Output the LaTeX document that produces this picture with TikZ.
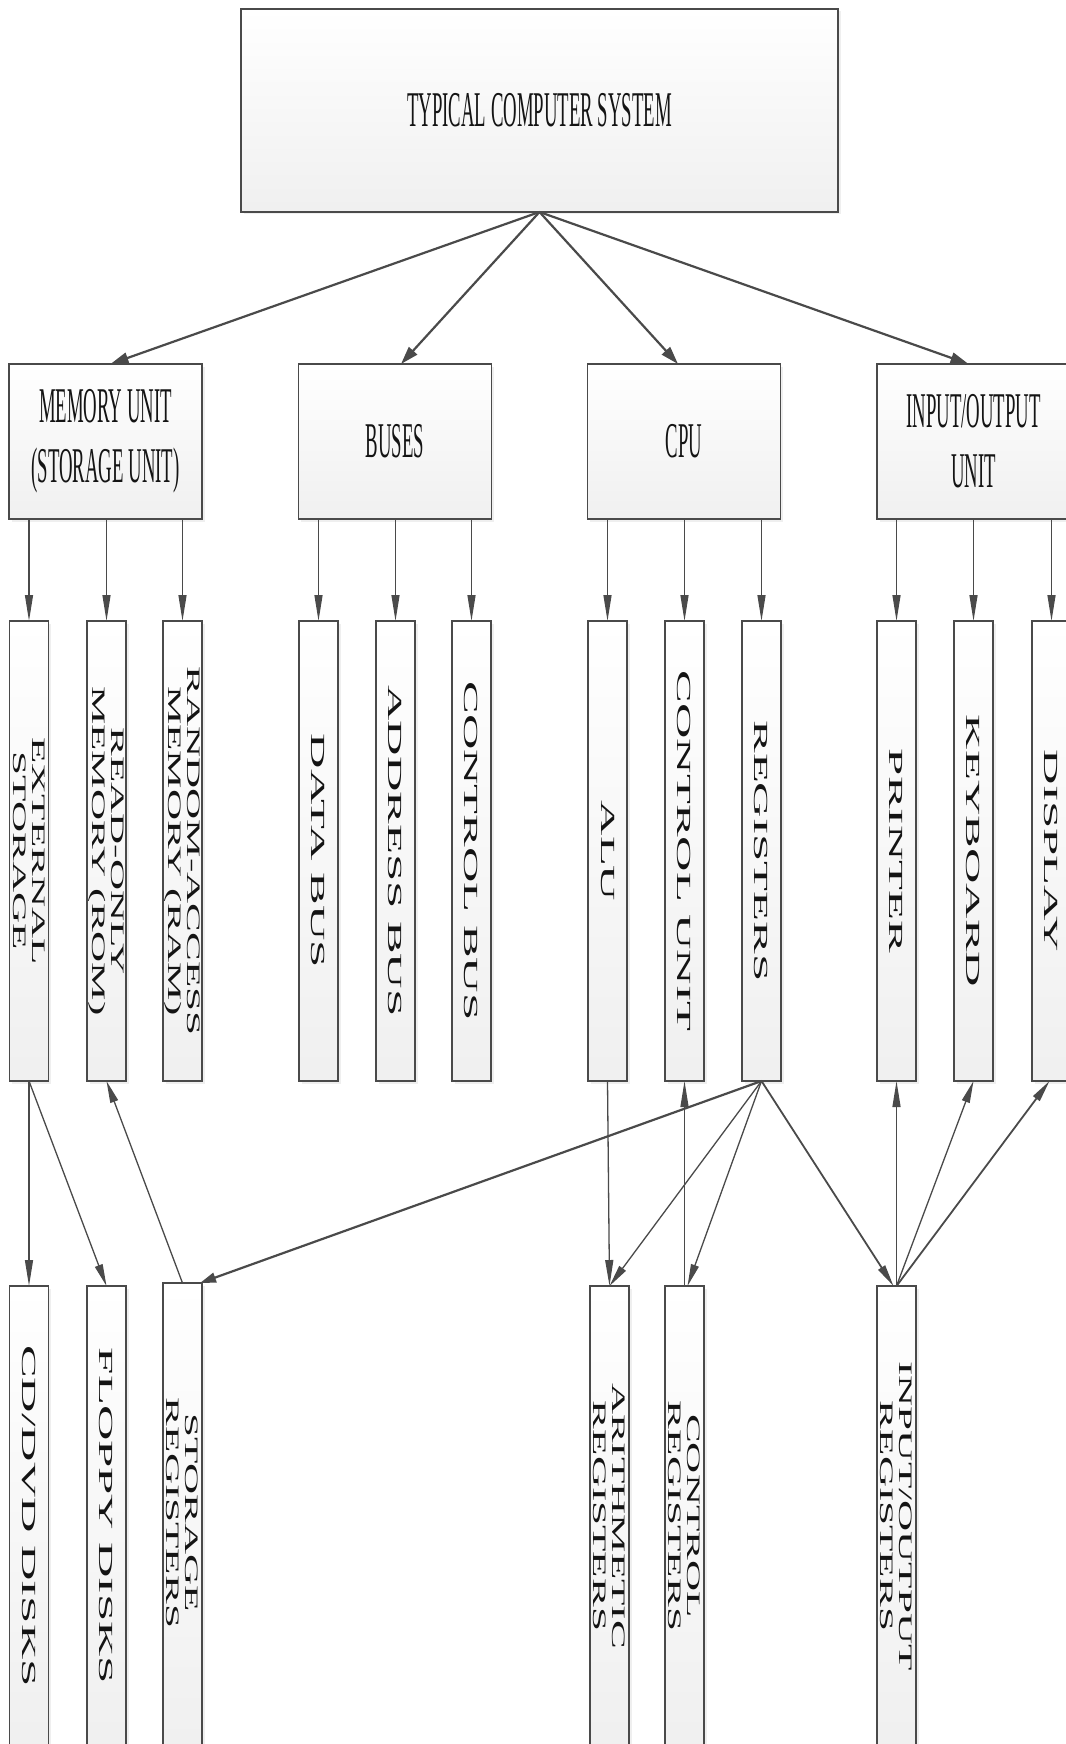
\documentclass[tikz,border=0pt]{standalone}
\usepackage{fontspec}
\setmainfont{Liberation Serif}
\newfontfamily\hfont[FakeStretch=0.375]{Liberation Serif}
\newfontfamily\vfontA[FakeStretch=2.45]{Liberation Serif}
\newfontfamily\vfontB[FakeStretch=2.27]{Liberation Serif}
\usetikzlibrary{arrows.meta,shadows,calc}
\definecolor{edge}{HTML}{4A4A4A}
\definecolor{txt}{HTML}{141414}
\begin{document}
\begin{tikzpicture}[x=1pt,y=-1pt,
 box/.style={draw=edge, line width=1.6pt, top color=white, bottom color=black!6,
   inner sep=0pt, outer sep=0pt,
   drop shadow={shadow xshift=2.5pt, shadow yshift=-2.5pt, opacity=0.12}},
 bigbox/.style={box, minimum width=597pt, minimum height=203pt},
 midbox/.style={box, minimum width=193pt, minimum height=155pt},
 tallbox/.style={box, line width=1.3pt, minimum width=39pt, minimum height=460pt},
 hlab/.style={font=\hfont\fontsize{50}{60}\selectfont, text=txt, align=center, inner sep=0pt},
 vlabA/.style={rotate=-90, font=\vfontA\fontsize{20}{20}\selectfont, text=txt, align=center, inner sep=0pt},
 vlabB/.style={rotate=-90, font=\vfontB\fontsize{19}{19}\selectfont, text=txt, align=center, inner sep=0pt},
 bigarr/.style={draw=edge, line width=2.2pt, -{Triangle[length=18pt,width=11pt]}},
 downarr/.style={draw=edge, line width=1.3pt, -{Triangle[length=26pt,width=8pt]}},
 slantarr/.style={draw=edge, line width=1.3pt, -{Triangle[length=22pt,width=8pt]}},
 longarr/.style={draw=edge, line width=2.2pt, -{Triangle[length=16pt,width=10pt]}},
]
\useasboundingbox[fill=white] (0,0) rectangle (1065,1744);

% level 1
\node[bigbox] (top) at (539.5,110.5) {};
\node[hlab] (topt) at (top) {TYPICAL COMPUTER SYSTEM};

% level 2
\node[midbox] (mem) at (105.5,441.5) {};
\node[hlab] (memt) at (mem) {MEMORY UNIT\\(STORAGE UNIT)};
\node[midbox] (bus) at (395,441.5) {};
\node[hlab] (bust) at (bus) {BUSES};
\node[midbox] (cpu) at (684,441.5) {};
\node[hlab] (cput) at (cpu) {CPU};
\node[midbox] (io) at (973.5,441.5) {};
\node[hlab] (iot) at (io) {INPUT/OUTPUT\\UNIT};

% level 3
\node[tallbox] (ext) at (29,851) {};
\node[vlabB] (extt) at (ext) {EXTERNAL\\STORAGE};
\node[tallbox] (rom) at (106.5,851) {};
\node[vlabB] (romt) at (rom) {READ-ONLY\\MEMORY (ROM)};
\node[tallbox] (ram) at (182.5,851) {};
\node[vlabB] (ramt) at (ram) {RANDOM-ACCESS\\MEMORY (RAM)};

\node[tallbox] (dbus) at (318.5,851) {};
\node[vlabA] (dbust) at (dbus) {DATA BUS};
\node[tallbox] (abus) at (395.5,851) {};
\node[vlabA] (abust) at (abus) {ADDRESS BUS};
\node[tallbox] (cbus) at (471.5,851) {};
\node[vlabA] (cbust) at (cbus) {CONTROL BUS};

\node[tallbox] (alu) at (607.5,851) {};
\node[vlabA] (alut) at (alu) {ALU};
\node[tallbox] (cu) at (684.5,851) {};
\node[vlabA] (cut) at (cu) {CONTROL UNIT};
\node[tallbox] (reg) at (761.5,851) {};
\node[vlabA] (regt) at (reg) {REGISTERS};

\node[tallbox] (prn) at (896.5,851) {};
\node[vlabA] (prnt) at (prn) {PRINTER};
\node[tallbox] (kbd) at (973.5,851) {};
\node[vlabA] (kbdt) at (kbd) {KEYBOARD};
\node[tallbox] (dsp) at (1051.5,851) {};
\node[vlabA] (dspt) at (dsp) {DISPLAY};

% level 4
\node[tallbox] (cd) at (29,1516) {};
\node[vlabA] (cdt) at (cd) {CD/DVD DISKS};
\node[tallbox] (flp) at (106.5,1516) {};
\node[vlabA] (flpt) at (flp) {FLOPPY DISKS};
\node[tallbox, minimum height=470pt] (sreg) at (182.5,1518) {};
\node[vlabB] (sregt) at (182.5,1513) {STORAGE\\REGISTERS};
\node[tallbox] (areg) at (609.5,1516) {};
\node[vlabB] (aregt) at (areg) {ARITHMETIC\\REGISTERS};
\node[tallbox] (creg) at (684.5,1516) {};
\node[vlabB] (cregt) at (creg) {CONTROL\\REGISTERS};
\node[tallbox] (ioreg) at (896.5,1516) {};
\node[vlabB] (ioregt) at (ioreg) {INPUT/OUTPUT\\REGISTERS};

% level 1 -> 2
\draw[bigarr] (top.south) -- ($(mem.north)+(5,0)$);
\draw[bigarr] (top.south) -- ($(bus.north)+(6,0)$);
\draw[bigarr] (top.south) -- ($(cpu.north)+(-6,0)$);
\draw[bigarr] (top.south) -- ($(io.north)+(-5,0)$);

% level 2 -> 3
\foreach \p/\c in {mem/ext,mem/rom,mem/ram,bus/dbus,bus/abus,bus/cbus,cpu/alu,cpu/cu,cpu/reg,io/prn,io/kbd,io/dsp}
  \draw[downarr] (\p.south -| \c.north) -- (\c.north);

% level 3 -> 4
\draw[downarr] (ext.south) -- (cd.north);
\draw[slantarr] (ext.south) -- (flp.north);
\draw[slantarr] (sreg.north) -- (rom.south);
\draw[longarr] (reg.south) -- ($(sreg.north east)+(-2,0)$);
\draw[downarr] (alu.south) -- (areg.north);
\draw[slantarr] (reg.south) -- (areg.north);
\draw[slantarr] (reg.south) -- ($(creg.north)+(3,0)$);
\draw[downarr] (creg.north) -- (cu.south);
\draw[slantarr, line width=1.8pt] (reg.south) -- ($(ioreg.north)+(-3,0)$);
\draw[downarr] (ioreg.north) -- (ioreg.north |- prn.south);
\draw[slantarr] (ioreg.north) -- (kbd.south);
\draw[slantarr, line width=1.8pt] (ioreg.north) -- ($(dsp.south)+(-2,0)$);
\end{tikzpicture}
\end{document}
